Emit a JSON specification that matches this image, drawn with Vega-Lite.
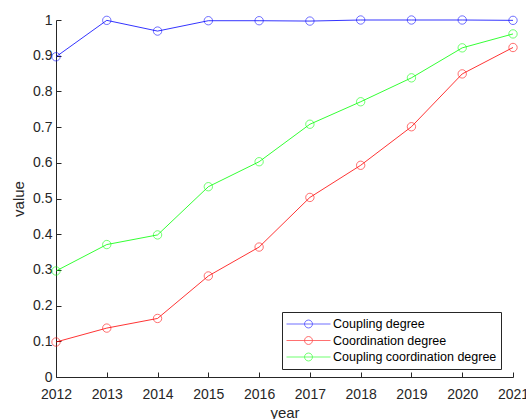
{
  "$schema": "https://vega.github.io/schema/vega-lite/v6.json",
  "width": 457,
  "height": 357,
  "autosize": {"type": "none"},
  "padding": {"left": 56, "top": 20, "right": 13, "bottom": 42},
  "background": "white",
  "config": {
    "view": {"stroke": null},
    "font": "Liberation Sans",
    "axis": {
      "domainColor": "#262626",
      "tickColor": "#262626",
      "labelColor": "#262626",
      "titleColor": "#262626",
      "labelFontSize": 14,
      "titleFontSize": 15,
      "titleFontWeight": "normal",
      "tickSize": -5,
      "grid": false,
      "domainWidth": 1,
      "tickWidth": 1,
      "labelFlush": false
    }
  },
  "data": {
    "values": [
      {"year": 2012, "series": "Coupling degree", "value": 0.897},
      {"year": 2013, "series": "Coupling degree", "value": 0.999},
      {"year": 2014, "series": "Coupling degree", "value": 0.969},
      {"year": 2015, "series": "Coupling degree", "value": 0.998},
      {"year": 2016, "series": "Coupling degree", "value": 0.998},
      {"year": 2017, "series": "Coupling degree", "value": 0.997},
      {"year": 2018, "series": "Coupling degree", "value": 1.0},
      {"year": 2019, "series": "Coupling degree", "value": 1.0},
      {"year": 2020, "series": "Coupling degree", "value": 1.0},
      {"year": 2021, "series": "Coupling degree", "value": 0.999},
      {"year": 2012, "series": "Coordination degree", "value": 0.098},
      {"year": 2013, "series": "Coordination degree", "value": 0.137},
      {"year": 2014, "series": "Coordination degree", "value": 0.164},
      {"year": 2015, "series": "Coordination degree", "value": 0.283},
      {"year": 2016, "series": "Coordination degree", "value": 0.364},
      {"year": 2017, "series": "Coordination degree", "value": 0.503},
      {"year": 2018, "series": "Coordination degree", "value": 0.593},
      {"year": 2019, "series": "Coordination degree", "value": 0.701},
      {"year": 2020, "series": "Coordination degree", "value": 0.849},
      {"year": 2021, "series": "Coordination degree", "value": 0.923},
      {"year": 2012, "series": "Coupling coordination degree", "value": 0.297},
      {"year": 2013, "series": "Coupling coordination degree", "value": 0.371},
      {"year": 2014, "series": "Coupling coordination degree", "value": 0.398},
      {"year": 2015, "series": "Coupling coordination degree", "value": 0.533},
      {"year": 2016, "series": "Coupling coordination degree", "value": 0.603},
      {"year": 2017, "series": "Coupling coordination degree", "value": 0.708},
      {"year": 2018, "series": "Coupling coordination degree", "value": 0.771},
      {"year": 2019, "series": "Coupling coordination degree", "value": 0.838},
      {"year": 2020, "series": "Coupling coordination degree", "value": 0.922},
      {"year": 2021, "series": "Coupling coordination degree", "value": 0.961}
    ]
  },
  "encoding": {
    "x": {
      "field": "year",
      "type": "quantitative",
      "scale": {"domain": [2012, 2021], "nice": false, "zero": false},
      "axis": {"values": [2012, 2013, 2014, 2015, 2016, 2017, 2018, 2019, 2020, 2021], "format": "d", "title": "year", "labelPadding": 15, "titlePadding": 4}
    },
    "y": {
      "field": "value",
      "type": "quantitative",
      "scale": {"domain": [0, 1], "nice": false},
      "axis": {"values": [0, 0.1, 0.2, 0.3, 0.4, 0.5, 0.6, 0.7, 0.8, 0.9, 1], "format": ".1~f", "title": "value", "labelPadding": 9, "titlePadding": 6}
    },
    "color": {
      "field": "series",
      "type": "nominal",
      "scale": {
        "domain": ["Coupling degree", "Coordination degree", "Coupling coordination degree"],
        "range": ["#0000ff", "#ff0000", "#00ff00"]
      },
      "legend": {
        "title": null,
        "orient": "none",
        "legendX": 226,
        "legendY": 292,
        "strokeColor": "#262626",
        "fillColor": "white",
        "padding": 4,
        "labelFontSize": 12.5,
        "labelColor": "#000000",
        "labelOffset": 2,
        "labelLimit": 300,
        "symbolType": "M-1,0L1,0M-0.18,0A0.18,0.18,0,1,0,0.18,0A0.18,0.18,0,1,0,-0.18,0",
        "symbolSize": 1936,
        "symbolStrokeWidth": 0.8,
        "symbolFillColor": "transparent",
        "clipHeight": 16,
        "rowPadding": 0.5
      }
    }
  },
  "layer": [
    {"mark": {"type": "line", "strokeWidth": 0.8}},
    {"mark": {"type": "point", "shape": "circle", "filled": false, "size": 70, "strokeWidth": 0.8}}
  ]
}
